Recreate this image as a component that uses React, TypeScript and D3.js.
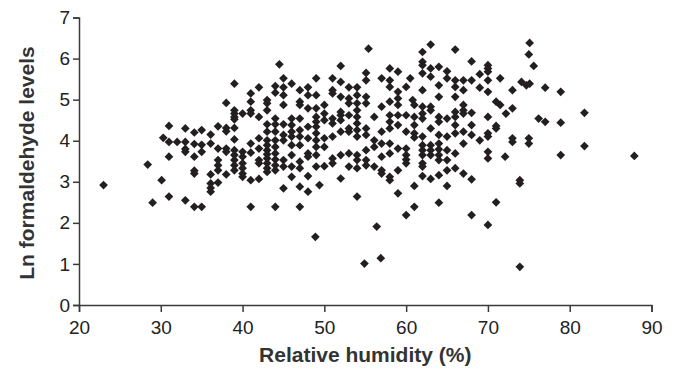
import React, { useEffect, useRef } from 'react';
import * as d3 from 'd3';

// humidity (%) -> ln formaldehyde values measured at that humidity
const humidityColumns: [number, number[]][] = [
  [23, [2.92]],
  [28.4, [3.42]],
  [29, [2.49]],
  [30.1, [3.04]],
  [30.3, [4.07]],
  [31, [4.36, 3.97, 3.61, 2.64]],
  [32, [3.97]],
  [33, [4.3, 3.97, 3.8, 3.73, 2.55]],
  [34.1, [4.2, 3.92, 3.61, 3.27, 3.2, 2.39]],
  [35, [4.26, 3.9, 3.73, 2.39]],
  [36.1, [4.15, 3.93, 3.18, 2.96, 2.85, 2.76]],
  [37, [4.35, 3.81, 3.53, 3.4, 3.28, 2.98]],
  [38, [4.92, 4.31, 4.23, 3.81, 3.73, 3.18]],
  [39, [5.39, 4.74, 4.66, 4.58, 4.52, 4.31, 4.03, 3.77, 3.65, 3.53, 3.4, 3.28]],
  [40, [4.66, 3.73, 3.61, 3.45, 3.33, 3.2, 3.12]],
  [41, [5.15, 4.95, 4.74, 4.66, 3.93, 3.71, 3.04, 2.39]],
  [42, [5.3, 4.58, 4.06, 3.81, 3.53, 3.45, 3.07]],
  [43, [4.99, 4.91, 4.74, 4.4, 4.22, 4.01, 3.89, 3.77, 3.67, 3.57, 3.45, 3.33, 3.24]],
  [44, [5.33, 5.17, 4.54, 4.4, 4.22, 4.01, 3.85, 3.69, 3.54, 3.4, 3.28, 2.39]],
  [44.5, [5.86]],
  [45, [5.52, 5.3, 5.11, 4.87, 4.4, 4.14, 4.01, 3.53, 3.37, 2.84]],
  [46, [5.39, 4.54, 4.38, 4.22, 4.1, 3.89, 3.65, 3.37, 3.12]],
  [47, [5.23, 4.95, 4.87, 4.54, 4.26, 4.1, 3.89, 3.49, 3.33, 2.88, 2.39]],
  [48, [5.3, 5.11, 4.79, 4.34, 4.06, 3.69, 3.61, 3.14, 2.76]],
  [48.9, [1.66]],
  [49, [5.52, 5.11, 4.79, 4.58, 4.46, 4.34, 4.18, 4.01, 3.85, 3.65, 3.37]],
  [49.4, [2.92]],
  [50, [4.87, 4.66, 4.5, 4.06, 3.85, 3.38]],
  [51, [5.52, 5.23, 5.15, 4.54, 4.42, 4.1, 3.57, 3.45]],
  [52, [5.82, 5.43, 5.07, 4.7, 4.62, 4.5, 4.22, 3.65, 3.08]],
  [53, [5.3, 5.03, 4.91, 4.62, 4.3, 4.22, 3.69, 3.37]],
  [54, [5.3, 5.11, 4.91, 4.74, 4.58, 4.42, 4.26, 4.1, 3.65, 3.53, 3.33, 2.64]],
  [54.9, [1.01]],
  [55.1, [5.65, 5.47, 5.07, 4.91, 4.3, 4.14, 3.77, 3.53, 3.4]],
  [55.4, [6.24]],
  [56.1, [4.58, 4.01, 3.85, 3.37]],
  [56.4, [1.91]],
  [56.9, [1.14]],
  [57, [5.52, 4.83, 4.22, 3.93, 3.61, 3.28, 3.2]],
  [58, [5.76, 5.47, 5.31, 4.95, 4.62, 4.46, 4.3, 3.93, 3.69, 3.12, 3.04]],
  [59, [5.68, 5.19, 5.03, 4.87, 4.62, 4.38, 3.81, 3.28, 2.72]],
  [60, [5.31, 4.62, 4.22, 3.81, 3.65, 3.54, 3.45, 2.19]],
  [60.5, [5.52]],
  [60.8, [4.99]],
  [61, [4.87, 4.58, 4.38, 4.18, 4.08, 2.9, 2.39]],
  [62, [6.16, 5.92, 5.84, 5.64, 5.23, 4.83, 4.66, 4.54, 4.1, 3.89, 3.77, 3.65, 3.45, 3.37, 3.14]],
  [63, [6.34, 5.76, 5.56, 4.83, 4.74, 4.3, 3.89, 3.77, 3.65, 3.07]],
  [64, [5.8, 5.35, 5.07, 4.58, 4.46, 4.14, 3.93, 3.79, 3.65, 3.53, 3.16, 2.49]],
  [65, [5.69, 5.52, 4.54, 4.1, 3.77, 3.53, 3.28, 2.9]],
  [66, [6.22, 5.47, 5.31, 5.07, 4.7, 4.58, 4.38, 4.18, 3.69, 3.33]],
  [67, [5.47, 5.23, 4.87, 4.74, 4.66, 4.22, 3.93, 3.2]],
  [68, [5.93, 5.47, 4.68, 4.38, 4.14, 3.06, 2.19]],
  [69, [5.62, 5.29, 4.01]],
  [70, [5.84, 5.76, 5.68, 5.47, 5.19, 4.58, 4.18, 4.1, 3.73, 3.57, 1.95]],
  [71, [4.95, 4.36, 4.3, 2.5]],
  [71.5, [5.52, 4.87]],
  [72.1, [3.61]],
  [72.2, [4.66]],
  [73, [5.23, 4.79, 4.06, 3.97]],
  [73.9, [3.04, 2.96, 0.93]],
  [74.1, [5.43]],
  [74.7, [5.35]],
  [75, [6.1, 4.06, 3.93]],
  [75.1, [6.38, 5.39]],
  [75.6, [5.82]],
  [76.2, [4.54]],
  [77, [5.29, 4.46]],
  [78.9, [5.19, 4.44, 3.65]],
  [81.8, [4.68, 3.87]],
  [87.9, [3.63]],
];

const xTicks = [20, 30, 40, 50, 60, 70, 80, 90];
const yTicks = [0, 1, 2, 3, 4, 5, 6, 7];

const W = 675;
const H = 369;
const axisColor = '#3a3a3a';
const pointColor = '#231f20';
const font = 'Liberation Sans, Arial, sans-serif';

export default function App() {
  const svgRef = useRef<SVGSVGElement>(null);

  useEffect(() => {
    if (!svgRef.current) return;
    const svg = d3.select(svgRef.current);
    svg.selectAll('*').remove();

    const x = d3.scaleLinear().domain([20, 90]).range([79, 651.5]);
    const y = d3.scaleLinear().domain([0, 7]).range([305, 17.5]);

    const points = humidityColumns.flatMap(([h, vals]) => vals.map(v => [h, v] as [number, number]));

    // x axis
    const xAxis = svg.append('g')
      .attr('transform', `translate(0,${y(0)})`)
      .call(d3.axisBottom(x).tickValues(xTicks).tickSize(7).tickPadding(9).tickFormat(d3.format('d')));
    xAxis.select('.domain').attr('stroke', axisColor).attr('stroke-width', 1.5);
    xAxis.selectAll('.tick line').attr('stroke', axisColor).attr('stroke-width', 1.5);
    xAxis.selectAll('.tick text')
      .attr('fill', '#222')
      .style('font-family', font)
      .style('font-size', '19px');

    // y axis
    const yAxis = svg.append('g')
      .attr('transform', `translate(${x(20)},0)`)
      .call(d3.axisLeft(y).tickValues(yTicks).tickSize(6).tickPadding(3).tickFormat(d3.format('d')));
    yAxis.select('.domain').attr('stroke', axisColor).attr('stroke-width', 1.5);
    yAxis.selectAll('.tick line').attr('stroke', axisColor).attr('stroke-width', 1.5);
    yAxis.selectAll('.tick text')
      .attr('fill', '#222')
      .style('font-family', font)
      .style('font-size', '19px');

    // points
    const diamond = d3.symbol().type(d3.symbolSquare).size(38);
    svg.append('g')
      .selectAll('path')
      .data(points)
      .enter().append('path')
      .attr('d', diamond() || '')
      .attr('transform', d => `translate(${x(d[0])},${y(d[1])}) rotate(45)`)
      .attr('fill', pointColor);

    // titles
    svg.append('text')
      .attr('x', (x(20) + x(90)) / 2)
      .attr('y', 362)
      .attr('text-anchor', 'middle')
      .style('font-family', font)
      .style('font-size', '21px')
      .style('font-weight', 'bold')
      .attr('fill', '#333')
      .text('Relative humidity (%)');

    svg.append('text')
      .attr('transform', `translate(34,163) rotate(-90)`)
      .attr('text-anchor', 'middle')
      .style('font-family', font)
      .style('font-size', '21px')
      .style('font-weight', 'bold')
      .attr('fill', '#333')
      .text('Ln formaldehyde levels');
  }, []);

  return (
    <div style={{ position: 'fixed', left: 0, top: 0, background: '#fff' }}>
      <svg ref={svgRef} width={W} height={H} viewBox={`0 0 ${W} ${H}`} />
    </div>
  );
}
